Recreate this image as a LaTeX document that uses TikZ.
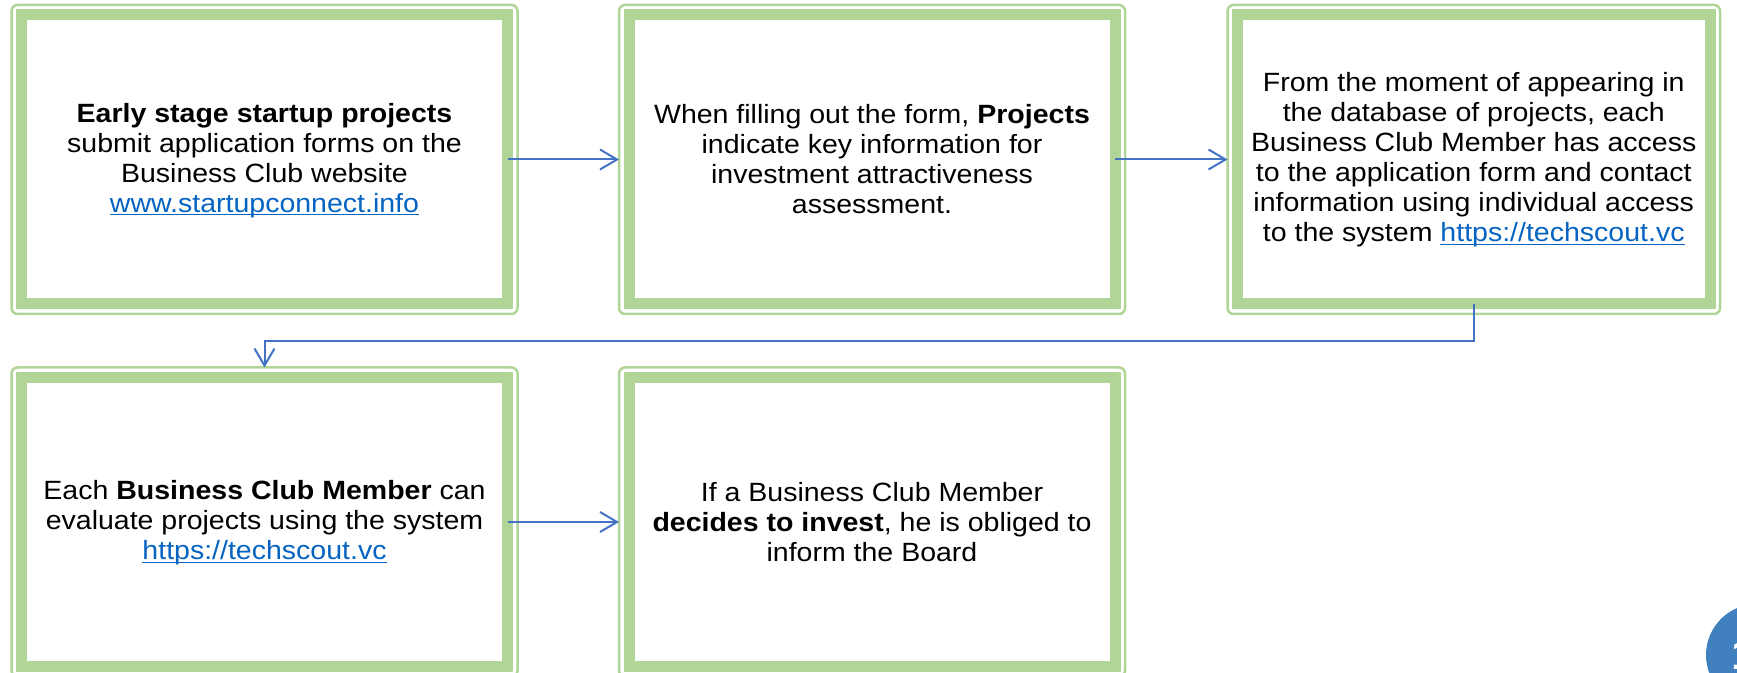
\documentclass[tikz,border=0pt]{standalone}
\usepackage{fontspec}
\setmainfont{Liberation Sans}[FakeStretch=1.08]
\usepackage{xcolor}
\definecolor{colorFrame}{HTML}{B0D596}
\definecolor{colorArrow}{HTML}{4472C4}
\definecolor{colorLink}{HTML}{0563C1}
\definecolor{colorPage}{HTML}{4080BE}
\usetikzlibrary{arrows.meta, positioning}
\newcommand{\weblink}[1]{\textcolor{colorLink}{\underline{\smash{#1}}}}

\begin{document}
\begin{tikzpicture}[x=0.5pt, y=-0.5pt, >={Straight Barb[length=8.5pt,width=10pt]},
  box/.style={draw=colorFrame, line width=5.5pt, outer sep=0pt, inner sep=0pt, minimum width=243pt, minimum height=144.5pt, align=center, font=\fontsize{13.2}{15}\selectfont},
  frame/.style={draw=colorFrame, line width=1.25pt, rounded corners=3pt},
  flow/.style={->, colorArrow, line width=1pt, shorten >=5pt}]
\useasboundingbox (0,0) rectangle (1737,673);
\node[box] (b1) at (264.5,159.5) {\textbf{Early stage startup projects}\\submit application forms on the\\Business Club website\\\weblink{www.startupconnect.info}};
\node[box, right=60.75pt of b1] (b2) {When filling out the form, \textbf{Projects}\\indicate key information for\\investment attractiveness\\assessment.};
\node[box, minimum width=236.25pt, right=61.25pt of b2] (b3) {From the moment of appearing in\\the database of projects, each\\Business Club Member has access\\to the application form and contact\\information using individual access\\to the system \weblink{https://techscout.vc}};
\node[box, below=36.75pt of b1] (b4) {Each \textbf{Business Club Member} can\\evaluate projects using the system\\\weblink{https://techscout.vc}};
\node[box, right=60.75pt of b4] (b5) {If a Business Club Member\\\textbf{decides to invest}, he is obliged to\\inform the Board};
\foreach \b in {b1,b2,b3,b4,b5}
  \draw[frame] ([shift={(-5pt,5pt)}]\b.north west) rectangle ([shift={(5pt,-5pt)}]\b.south east);
\draw[flow] (b1) -- (b2);
\draw[flow] (b2) -- (b3);
\draw[flow] (b3.south) -- ++(0,37) -| (b4.north);
\draw[flow] (b4) -- (b5);
\node[circle, fill=colorPage, minimum size=51pt, inner sep=0pt, text=white, font=\bfseries\fontsize{21}{21}\selectfont] (page) at (1757,655) {1\phantom{0}};
\end{tikzpicture}
\end{document}
